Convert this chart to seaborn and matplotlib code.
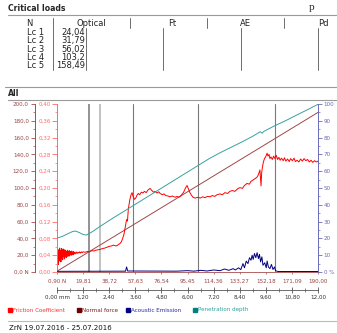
import numpy as np
import pandas as pd
import matplotlib
matplotlib.use("Agg")
import matplotlib.pyplot as plt
import seaborn as sns

# Critical loads table
crit_names = ["Lc 1", "Lc 2", "Lc 3", "Lc 4", "Lc 5"]
crit_loads = [24.04, 31.79, 56.02, 103.2, 158.49]
crit_text = ["24,04", "31,79", "56,02", "103,2", "158,49"]
table_cols = ["N", "Optical", "Ft", "AE", "Pd"]

# Normal force ramp (position mm -> N)
force_mm = [0.0, 12.0]
force_N = [0.9, 190.0]

# x axis tick labels
mm_pos = [0.0, 1.2, 2.4, 3.6, 4.8, 6.0, 7.2, 8.4, 9.6, 10.8, 12.0]
force_labels = ["0,90 N", "19,81", "38,72", "57,63", "76,54", "95,45",
                "114,36", "133,27", "152,18", "171,09", "190,00"]
mm_labels = ["0,00 mm", "1,20", "2,40", "3,60", "4,80", "6,00",
             "7,20", "8,40", "9,60", "10,80", "12,00"]

# Friction coefficient
fric_mm = [0.00, 0.02, 0.04, 0.06, 0.08, 0.10, 0.12, 0.14, 0.16, 0.18,
           0.20, 0.22, 0.24, 0.26, 0.28, 0.30, 0.32, 0.34, 0.36, 0.38,
           0.40, 0.42, 0.44, 0.46, 0.48, 0.50, 0.52, 0.54, 0.56, 0.58,
           0.60, 0.62, 0.64, 0.66, 0.68, 0.70, 0.72, 0.74, 0.76, 0.78,
           0.80, 0.84, 0.88, 0.92, 0.96, 1.00, 1.04, 1.08, 1.12, 1.16,
           1.20, 1.30, 1.40, 1.50, 1.60, 1.70, 1.80, 1.90, 2.00, 2.10,
           2.20, 2.30, 2.40, 2.50, 2.60, 2.70, 2.76, 2.84, 2.90, 2.96,
           3.02, 3.08, 3.14, 3.20, 3.24, 3.28, 3.34, 3.40, 3.45, 3.50,
           3.56, 3.62, 3.68, 3.74, 3.80, 3.88, 3.95, 4.02, 4.10, 4.18,
           4.28, 4.36, 4.44, 4.51, 4.60, 4.68, 4.74, 4.84, 4.92, 5.00,
           5.10, 5.20, 5.30, 5.43, 5.52, 5.60, 5.68, 5.75, 5.82, 5.90,
           5.98, 6.04, 6.11, 6.18, 6.25, 6.35, 6.48, 6.58, 6.70, 6.80,
           6.92, 7.03, 7.14, 7.25, 7.36, 7.49, 7.60, 7.72, 7.84, 7.95,
           8.06, 8.18, 8.30, 8.41, 8.52, 8.62, 8.74, 8.84, 8.92, 9.01,
           9.10, 9.20, 9.26, 9.33, 9.36, 9.38, 9.41, 9.44, 9.49, 9.54,
           9.60, 9.66, 9.70, 9.75, 9.79, 9.84, 9.90, 9.96, 10.02, 10.08,
           10.14, 10.20, 10.26, 10.32, 10.40, 10.46, 10.52, 10.60, 10.68, 10.74,
           10.82, 10.90, 10.96, 11.04, 11.12, 11.20, 11.28, 11.36, 11.44, 11.52,
           11.60, 11.68, 11.76, 11.84, 11.92, 12.00]
fric_mu = [0.000, 0.022, 0.046, 0.018, 0.053, 0.026, 0.057, 0.031, 0.051, 0.024,
           0.056, 0.033, 0.052, 0.029, 0.055, 0.036, 0.050, 0.031, 0.053, 0.037,
           0.051, 0.034, 0.049, 0.039, 0.052, 0.037, 0.048, 0.040, 0.051, 0.038,
           0.049, 0.041, 0.048, 0.040, 0.050, 0.042, 0.047, 0.041, 0.049, 0.043,
           0.047, 0.043, 0.048, 0.044, 0.047, 0.045, 0.048, 0.045, 0.048, 0.046,
           0.048, 0.047, 0.049, 0.048, 0.051, 0.050, 0.052, 0.053, 0.054, 0.056,
           0.057, 0.059, 0.061, 0.062, 0.064, 0.062, 0.063, 0.066, 0.068, 0.072,
           0.080, 0.090, 0.108, 0.125, 0.121, 0.150, 0.170, 0.183, 0.189, 0.180,
           0.173, 0.176, 0.183, 0.187, 0.184, 0.190, 0.188, 0.192, 0.189, 0.195,
           0.199, 0.194, 0.190, 0.192, 0.188, 0.191, 0.187, 0.184, 0.186, 0.182,
           0.181, 0.179, 0.181, 0.178, 0.180, 0.178, 0.181, 0.185, 0.190, 0.199,
           0.206, 0.198, 0.189, 0.183, 0.178, 0.176, 0.178, 0.176, 0.179, 0.177,
           0.180, 0.179, 0.182, 0.180, 0.184, 0.186, 0.184, 0.189, 0.187, 0.192,
           0.194, 0.192, 0.198, 0.201, 0.199, 0.206, 0.211, 0.209, 0.216, 0.219,
           0.222, 0.226, 0.232, 0.243, 0.220, 0.205, 0.236, 0.248, 0.262, 0.270,
           0.275, 0.283, 0.276, 0.280, 0.270, 0.274, 0.268, 0.276, 0.270, 0.278,
           0.268, 0.273, 0.266, 0.271, 0.265, 0.272, 0.264, 0.269, 0.263, 0.270,
           0.265, 0.271, 0.263, 0.266, 0.262, 0.269, 0.264, 0.270, 0.265, 0.268,
           0.262, 0.266, 0.261, 0.265, 0.262, 0.264]

# Penetration depth (%)
pen_mm = [0.00, 0.25, 0.50, 0.70, 0.85, 1.00, 1.20, 1.35, 1.60, 2.00,
          2.44, 3.00, 4.00, 5.00, 6.00, 7.00, 7.50, 8.00, 8.50, 9.00,
          9.35, 9.43, 9.50, 10.00, 10.50, 11.00, 11.50, 12.00]
pen_pct = [20.2, 21.2, 22.8, 24.0, 24.4, 23.6, 22.3, 22.0, 23.8, 27.3,
           31.0, 35.5, 43.5, 51.5, 59.5, 67.5, 71.0, 74.2, 77.4, 80.8,
           83.5, 82.6, 83.6, 87.0, 90.0, 93.3, 96.5, 99.8]

# Acoustic emission (%)
ae_mm = [0.00, 3.15, 3.20, 3.25, 5.50, 6.00, 6.30, 6.60, 6.90, 7.20,
         7.50, 7.70, 7.90, 8.10, 8.20, 8.35, 8.45, 8.55, 8.62, 8.70,
         8.78, 8.85, 8.92, 8.97, 9.02, 9.08, 9.14, 9.20, 9.26, 9.31,
         9.36, 9.42, 9.47, 9.55, 9.62, 9.66, 9.72, 9.79, 9.86, 9.93,
         10.00, 10.05, 10.16, 12.00]
ae_pct = [0.4, 0.5, 3.0, 0.6, 0.5, 0.8, 0.5, 1.0, 0.6, 1.2,
          0.8, 1.8, 1.0, 2.0, 1.2, 2.5, 1.4, 5.0, 2.5, 6.5,
          5.0, 8.5, 7.0, 10.0, 7.5, 11.0, 8.5, 11.5, 8.0, 10.5,
          6.0, 9.0, 4.0, 5.5, 2.5, 6.5, 3.0, 2.0, 4.5, 1.5,
          3.0, 0.8, 0.3, 0.3]

legend_items = ["Friction Coefficient", "Normal force", "Acoustic Emission", "Penetration depth"]

C_FORCE = "#a04848"
C_FORCE_AX = "#a84a4a"
C_FRIC = "#ff0000"
C_FRIC_AX = "#ff6a6a"
C_AE = "#000080"
C_PCT_AX = "#6a6ab8"
C_PEN = "#3aa0a0"
GRAY = "#9a9a9a"

sns.set_style("ticks")
plt.rcParams["font.family"] = ["DejaVu Sans"]

W, H = 337, 333
fig = plt.figure(figsize=(W / 100, H / 100), dpi=100)

# overlay in pixel coordinates for the table / legend text
ov = fig.add_axes([0, 0, 1, 1])
ov.set_xlim(0, W)
ov.set_ylim(H, 0)
ov.axis("off")

ov.text(312, 10.5, "p", fontsize=8, family="Liberation Serif", ha="center", va="baseline")
ov.text(8, 8.5, "Critical loads", fontsize=5.6, fontweight="bold", va="center")
ov.plot([8, W], [14.5, 14.5], color=GRAY, lw=0.8)

head_x = [29, 91, 172, 245, 323]
for x, c in zip(head_x, table_cols):
    ov.text(x, 24, c, fontsize=6.0, ha="center", va="center", color="#222222")
for x in [130, 207, 284]:
    ov.plot([x, x], [18, 28], color="#555555", lw=0.6)
ov.plot([53, 53], [18, 70], color="#555555", lw=0.6)
for x in [86, 163, 241, 318]:
    ov.plot([x, x], [28, 70], color="#555555", lw=0.6)
for i, (n, v) in enumerate(zip(crit_names, crit_text)):
    y = 32.5 + i * 8.35
    ov.text(27, y, n, fontsize=6.0, va="center", color="#222222")
    ov.text(85, y, v, fontsize=6.0, ha="right", va="center", color="#222222")
ov.plot([5, W], [87, 87], color=GRAY, lw=0.8)

ov.text(8, 94, "All", fontsize=5.6, fontweight="bold", va="center")
ov.plot([8, W], [100, 100], color=GRAY, lw=0.8)

leg_x = [8, 77, 126, 193]
leg_sq = [C_FRIC, "#700000", C_AE, "#008080"]
leg_tc = ["#ff3030", "#7a2020", "#2a2aa0", "#30a0a0"]
for x, lab, sq, tc in zip(leg_x, legend_items, leg_sq, leg_tc):
    ov.plot([x + 1.5], [310], marker="s", ms=2.6, color=sq, ls="none")
    ov.text(x + 5, 310, lab, fontsize=4.1, color=tc, va="center")
ov.plot([8, W], [321, 321], color="#bbbbbb", lw=0.8)
ov.text(9, 328, "ZrN 19.07.2016 - 25.07.2016", fontsize=5.0, va="center", color="#111111")

# main plot
ax = fig.add_axes([57 / W, (H - 272) / H, 261 / W, 168 / H])
ax_mu = ax.twinx()
ax_pct = ax.twinx()
ax_mm = ax.twiny()

crit_mm = np.interp(crit_loads, force_N, force_mm)
line_cols = ["#808080", "#b8b8b8", "#7a7a7a", "#7a7a7a", "#7a7a7a"]
line_w = [1.2, 1.2, 0.8, 0.8, 0.8]
for xm, c, w in zip(crit_mm, line_cols, line_w):
    ax.axvline(xm, color=c, lw=w, zorder=1)

sns.lineplot(x=force_mm, y=force_N, ax=ax, color=C_FORCE, lw=0.7, estimator=None)
sns.lineplot(x=fric_mm, y=fric_mu, ax=ax_mu, color=C_FRIC, lw=0.7, estimator=None)
sns.lineplot(x=pen_mm, y=pen_pct, ax=ax_pct, color=C_PEN, lw=0.7, estimator=None)
sns.lineplot(x=ae_mm, y=ae_pct, ax=ax_pct, color=C_AE, lw=0.7, estimator=None)

for a in [ax, ax_mu, ax_pct, ax_mm]:
    a.set_xlim(0, 12)
    a.set_xlabel("")
    a.set_ylabel("")
    for s in a.spines.values():
        s.set_visible(False)

FS = 4.1
# force axis (far left)
ax.set_ylim(0, 200)
ax.spines["left"].set_visible(True)
ax.spines["left"].set_position(("outward", 22 * 0.72))
ax.spines["left"].set_color(C_FORCE_AX)
ax.spines["left"].set_linewidth(0.7)
ax.set_yticks(range(0, 201, 20))
ax.set_yticklabels(["0,0 N"] + ["%d,0" % v for v in range(20, 201, 20)])
ax.set_yticks(range(0, 201, 10), minor=True)
ax.tick_params(axis="y", which="major", length=3, width=0.6, color=C_FORCE_AX,
               labelcolor="#9a4444", labelsize=FS, pad=1.5)
ax.tick_params(axis="y", which="minor", length=1.5, width=0.5, color=C_FORCE_AX)
ax.spines["bottom"].set_visible(True)
ax.spines["bottom"].set_color(C_FORCE_AX)
ax.spines["bottom"].set_linewidth(0.6)
ax.set_xticks(mm_pos)
ax.set_xticklabels(force_labels)
ax.tick_params(axis="x", which="major", length=1.5, width=0.5, color=C_FORCE_AX,
               labelcolor="#9a4444", labelsize=FS, pad=3.5)

# friction axis
ax_mu.set_ylim(0, 0.4)
ax_mu.yaxis.tick_left()
ax_mu.spines["left"].set_visible(True)
ax_mu.spines["left"].set_color(C_FRIC_AX)
ax_mu.spines["left"].set_linewidth(0.7)
mu_ticks = np.arange(0, 0.401, 0.04)
ax_mu.set_yticks(mu_ticks)
ax_mu.set_yticklabels([("%.2f" % v).replace(".", ",") for v in mu_ticks])
ax_mu.set_yticks(np.arange(0, 0.401, 0.02), minor=True)
ax_mu.tick_params(axis="y", which="major", length=3.5, width=0.6, color=C_FRIC_AX,
                  labelcolor=C_FRIC_AX, labelsize=FS, pad=1)
ax_mu.tick_params(axis="y", which="minor", length=1.5, width=0.5, color=C_FRIC_AX)

# percent axis (right)
ax_pct.set_ylim(0, 100)
ax_pct.spines["right"].set_visible(True)
ax_pct.spines["right"].set_color(C_PCT_AX)
ax_pct.spines["right"].set_linewidth(0.7)
ax_pct.set_yticks(range(0, 101, 10))
ax_pct.set_yticklabels(["0 %"] + [str(v) for v in range(10, 101, 10)])
ax_pct.set_yticks(range(0, 101, 5), minor=True)
ax_pct.tick_params(axis="y", which="major", length=3, width=0.6, color=C_PCT_AX,
                   labelcolor=C_PCT_AX, labelsize=FS, pad=1)
ax_pct.tick_params(axis="y", which="minor", length=1.5, width=0.5, color=C_PCT_AX)

# position axis (mm) below
ax_mm.xaxis.set_ticks_position("bottom")
ax_mm.xaxis.set_label_position("bottom")
ax_mm.spines["bottom"].set_visible(True)
ax_mm.spines["bottom"].set_position(("outward", 18 * 0.72))
ax_mm.spines["bottom"].set_color("#555555")
ax_mm.spines["bottom"].set_linewidth(0.6)
ax_mm.set_xticks(mm_pos)
ax_mm.set_xticklabels(mm_labels)
ax_mm.set_xticks(np.arange(0.6, 12, 1.2), minor=True)
ax_mm.tick_params(axis="x", which="major", direction="inout", length=4, width=0.6,
                  color="#555555", labelcolor="#333333", labelsize=FS, pad=1.5)
ax_mm.tick_params(axis="x", which="minor", direction="inout", length=2.5, width=0.5,
                  color="#555555")

fig.savefig("out.png", dpi=100)
